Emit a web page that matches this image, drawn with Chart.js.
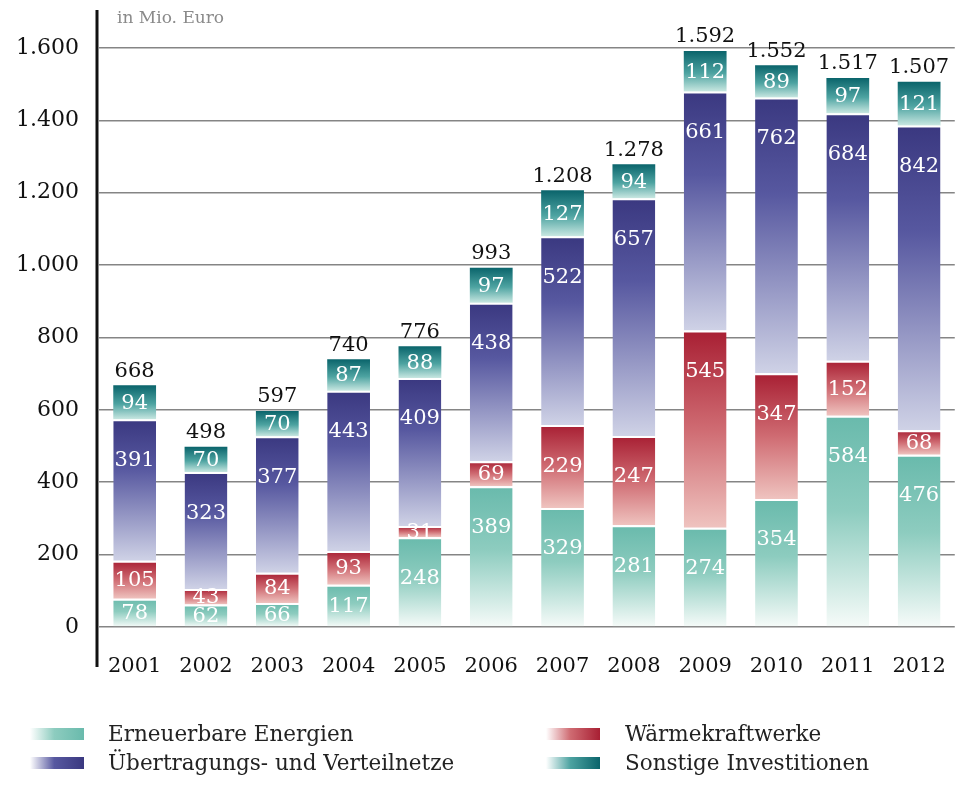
<!DOCTYPE html>
<html>
<head>
<meta charset="utf-8">
<script src="https://cdn.jsdelivr.net/npm/chart.js@4"></script>
<style>
  html, body { margin: 0; padding: 0; background: #fff; }
  #wrap { width: 965px; height: 787px; position: relative; }
</style>
</head>
<body>
<div id="wrap"><canvas id="chart" width="965" height="787"></canvas></div>
<script>
// values, in Mio. Euro
const years = ['2001', '2002', '2003', '2004', '2005', '2006', '2007', '2008', '2009', '2010', '2011', '2012'];
const erneuerbare = [78, 62, 66, 117, 248, 389, 329, 281, 274, 354, 584, 476];
const waerme = [105, 43, 84, 93, 31, 69, 229, 247, 545, 347, 152, 68];
const netze = [391, 323, 377, 443, 409, 438, 522, 657, 661, 762, 684, 842];
const sonstige = [94, 70, 70, 87, 88, 97, 127, 94, 112, 89, 97, 121];
const totals = [668, 498, 597, 740, 776, 993, 1208, 1278, 1592, 1552, 1517, 1507];
const seriesNames = ['Erneuerbare Energien', 'Wärmekraftwerke', 'Übertragungs- und Verteilnetze', 'Sonstige Investitionen'];

const series = [erneuerbare, waerme, netze, sonstige];
const FONT = '"DejaVu Serif", serif';

// top colour -> bottom colour of every segment
const stops = [
    [[0, '#69baac'], [0.45, '#8dccbf'], [1, '#f6fbf9']],
    [[0, '#a81f33'], [0.5, '#cf6b72'], [1, '#efc3bf']],
    [[0, '#3a3880'], [0.35, '#5758a0'], [1, '#cfd2e6']],
    [[0, '#0a646b'], [0.55, '#4da3a1'], [1, '#c8e7e1']]
];

function fmt(v) {
    return String(v).replace(/\B(?=(\d{3})+(?!\d))/g, '.');
}

function grad(idx) {
    return function (c) {
        const chart = c.chart;
        const y = chart.scales.y;
        if (c.type !== 'data' || !chart.chartArea || !y) return stops[idx][0][1];
        const i = c.dataIndex;
        let lo = 0;
        for (let k = 0; k < idx; k++) lo += series[k][i];
        const hi = lo + series[idx][i];
        const g = chart.ctx.createLinearGradient(0, y.getPixelForValue(hi), 0, y.getPixelForValue(lo));
        stops[idx].forEach(s => g.addColorStop(s[0], s[1]));
        return g;
    };
}

// white values inside the segments, totals on top
const valueLabels = {
    id: 'valueLabels',
    afterDatasetsDraw(chart) {
        const ctx = chart.ctx;
        ctx.save();
        ctx.textAlign = 'center';
        ctx.textBaseline = 'middle';
        ctx.font = '21px ' + FONT;
        ctx.fillStyle = '#fff';
        series.forEach((s, d) => {
            chart.getDatasetMeta(d).data.forEach((bar, i) => {
                const h = bar.base - bar.y;
                const y = bar.y + Math.min(h / 2, 40);
                ctx.fillText(String(s[i]), bar.x, y + 1);
            });
        });
        ctx.fillStyle = '#111';
        chart.getDatasetMeta(3).data.forEach((bar, i) => {
            ctx.fillText(fmt(totals[i]), bar.x, bar.y - 14);
        });
        ctx.restore();
    }
};

// axis line, unit, legend
const extras = {
    id: 'extras',
    afterDraw(chart) {
        const ctx = chart.ctx;
        ctx.save();
        ctx.strokeStyle = '#111';
        ctx.lineWidth = 3;
        ctx.beginPath();
        ctx.moveTo(97, 10);
        ctx.lineTo(97, 667);
        ctx.stroke();

        ctx.fillStyle = '#8a8a8a';
        ctx.font = '17px ' + FONT;
        ctx.textBaseline = 'middle';
        ctx.fillText('in Mio. Euro', 117, 19);

        const spots = [[30, 734, 108], [546, 734, 625], [30, 763, 108], [546, 763, 625]];
        ctx.font = '21.5px ' + FONT;
        spots.forEach((p, d) => {
            const [sx, sy, tx] = p;
            const g = ctx.createLinearGradient(sx, 0, sx + 54, 0);
            g.addColorStop(0, '#ffffff');
            g.addColorStop(0.45, stops[d][1][1]);
            g.addColorStop(1, stops[d][0][1]);
            ctx.fillStyle = g;
            ctx.fillRect(sx, sy - 6, 54, 12);
            ctx.fillStyle = '#222';
            ctx.fillText(seriesNames[d], tx, sy + 1);
        });
        ctx.restore();
    }
};

const datasets = series.map((s, d) => ({
    label: seriesNames[d],
    data: s,
    backgroundColor: grad(d),
    borderColor: '#ffffff',
    borderWidth: d < 3 ? { top: 2, left: 0, right: 0, bottom: 0 } : 0,
    borderSkipped: 'start',
    categoryPercentage: 1,
    barPercentage: 0.6
}));

new Chart(document.getElementById('chart'), {
    type: 'bar',
    data: { labels: years, datasets: datasets },
    options: {
        responsive: false,
        animation: false,
        layout: { padding: { top: 48, right: 4, bottom: 0, left: 0 } },
        plugins: { legend: { display: false }, tooltip: { enabled: false } },
        scales: {
            x: {
                stacked: true,
                grid: { display: false },
                border: { display: false },
                ticks: { color: '#111', font: { family: FONT, size: 21 }, padding: 19 },
                afterFit(scale) { scale.height = 160; }
            },
            y: {
                stacked: true,
                min: 0,
                max: 1600,
                grid: { color: '#858585', lineWidth: 1.6, drawTicks: false },
                border: { display: false },
                ticks: {
                    stepSize: 200,
                    color: '#111',
                    font: { family: FONT, size: 22 },
                    padding: 20,
                    callback: v => fmt(v)
                },
                afterFit(scale) { scale.width = 99; }
            }
        }
    },
    plugins: [valueLabels, extras]
});
</script>
</body>
</html>
